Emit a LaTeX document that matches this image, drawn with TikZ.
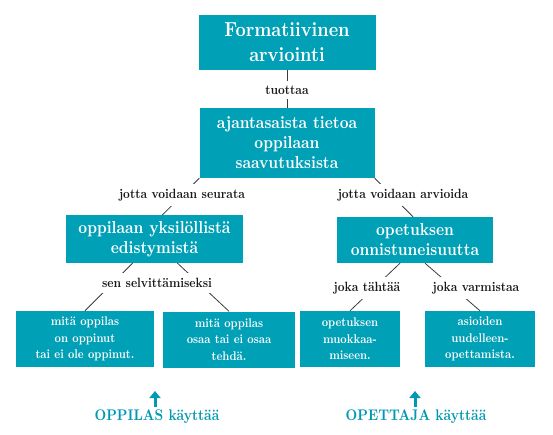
\documentclass[tikz,border=0pt]{standalone}
\usepackage{fontspec}
\usepackage{xcolor}
\usepackage{tikz}
\usetikzlibrary{arrows.meta, positioning}
\definecolor{boxteal}{RGB}{0,160,182}
\definecolor{textteal}{RGB}{0,152,178}
\definecolor{linegray}{RGB}{60,60,60}
\newfontfamily\boxfont[FakeStretch=0.88]{lmroman10-bold.otf}
\newcommand{\narrowfont}[2]{\boxfont\fontsize{#1}{#2}\selectfont}

\begin{document}
\begin{tikzpicture}[x=1pt, y=-1pt,
    box/.style={rectangle, fill=boxteal, text=white, align=center, inner sep=2pt, font=\narrowfont{17.4}{20}},
    bigbox/.style={box, font=\narrowfont{20.3}{25}},
    smallbox/.style={box, minimum height=56pt, font=\narrowfont{12.6}{16.5}},
    lbl/.style={fill=white, inner xsep=3pt, inner ysep=5pt, text=black!90, font=\narrowfont{13.4}{15}},
    link/.style={draw=linegray, line width=0.8pt},
    user/.style={text=textteal, font=\narrowfont{15.4}{18}},
    uparrow/.style={-{Triangle[length=7pt, width=11pt]}, draw=textteal, line width=3pt}
]
    \useasboundingbox (0,0) rectangle (553,434);

    \node[bigbox, minimum width=177pt, minimum height=55pt] (arviointi) at (287,42.5) {Formatiivinen\\arviointi};
    \node[box, minimum width=175pt, minimum height=70pt] (tieto) at (287,143) {ajantasaista tietoa\\oppilaan\\saavutuksista};
    \node[box, minimum width=177pt, minimum height=48pt] (edist) at (154.5,239) {oppilaan yksilöllistä\\edistymistä};
    \node[box, minimum width=156pt, minimum height=46pt] (onnist) at (415,240) {opetuksen\\onnistuneisuutta};
    \node[smallbox, minimum width=138pt] (oppinut) at (85,339) {mitä oppilas\\on oppinut\\tai ei ole oppinut.};
    \node[smallbox, minimum width=132pt] (osaa) at (229,339.5) {mitä oppilas\\osaa tai ei osaa\\tehdä.};
    \node[smallbox, minimum width=100pt] (muokkaa) at (350,339) {opetuksen\\muokkaa-\\miseen.};
    \node[smallbox, minimum width=110pt] (opettamista) at (480,339) {asioiden\\uudelleen-\\opettamista.};

    \draw[link] (arviointi.south) -- (tieto.north);
    \draw[link] (tieto.south west) -- ([xshift=8pt]edist.north);
    \draw[link] (tieto.south east) -- ([xshift=-2pt]onnist.north);
    \draw[link] ([xshift=-22pt]edist.south) -- (oppinut.north);
    \draw[link] ([xshift=23pt]edist.south) -- (osaa.north);
    \draw[link] ([xshift=-15pt]onnist.south) -- (muokkaa.north);
    \draw[link] ([xshift=10pt]onnist.south) -- (opettamista.north);

    \node[lbl] (tuottaa) at (287,90) {tuottaa};
    \node[lbl] (seurata) at (182,195) {jotta voidaan seurata};
    \node[lbl] (arvioida) at (403,195) {jotta voidaan arvioida};
    \node[lbl] (selvitt) at (157,283) {sen selvittämiseksi};
    \node[lbl] (tahtaa) at (367,288) {joka tähtää};
    \node[lbl] (varmistaa) at (476,288) {joka varmistaa};

    \node[user] (oppilas) at (157,417) {OPPILAS käyttää};
    \node[user] (opettaja) at (416,417) {OPETTAJA käyttää};
    \coordinate (oppilastip) at (155,391);
    \coordinate (opettajatip) at (415,391);
    \draw[uparrow] (oppilas.north -| oppilastip) -- (oppilastip);
    \draw[uparrow] (opettaja.north -| opettajatip) -- (opettajatip);
\end{tikzpicture}
\end{document}
